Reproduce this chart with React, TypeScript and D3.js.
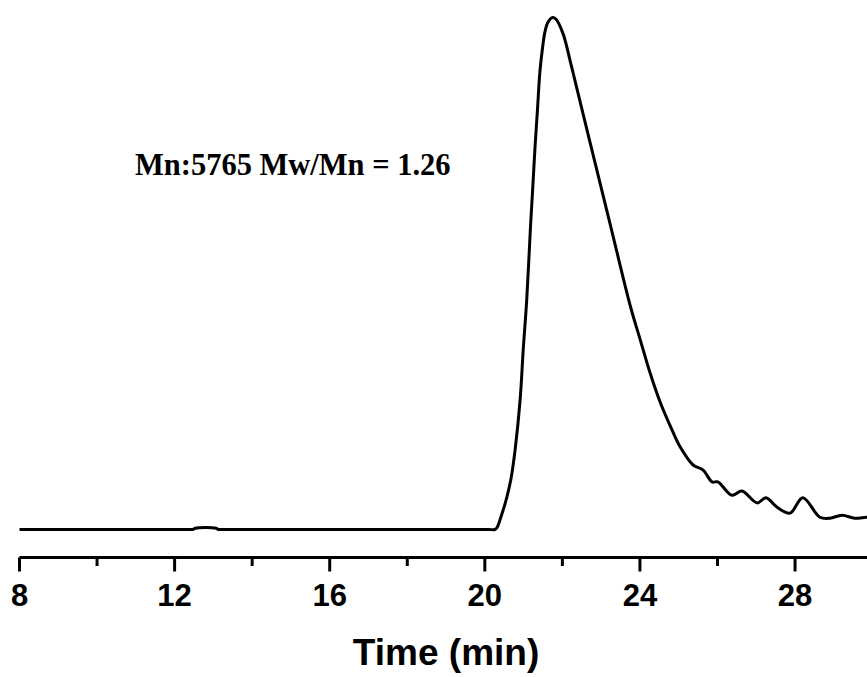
import React from "react";
import * as d3 from "d3";

const time = [
  8, 10, 12, 12.4, 12.47, 12.53, 13.07, 13.13, 13.2, 14, 16, 18, 19.5, 20.1, 20.26, 20.31, 20.43,
  20.55, 20.67, 20.78, 20.91, 20.99, 21.08, 21.18, 21.24, 21.29, 21.36, 21.42, 21.49, 21.55,
  21.63, 21.75, 21.83, 22.01, 22.24, 22.71, 23.23, 23.75, 24.01, 24.26, 24.52, 24.83, 25.04,
  25.37, 25.63, 25.86, 26.01, 26.37, 26.63, 27.02, 27.25, 27.53, 27.87, 28.2, 28.64, 28.9,
  29.21, 29.54, 29.85, 30,
];
const intensity = [
  0, 0, 0, 0, 0, 0.25, 0.25, 0, 0, 0, 0, 0, 0, 0, 0, 0.3, 2.8,
  5.8, 9.7, 15.5, 25.3, 35.1, 44.8, 59.5, 67.3, 74.1, 82.3, 89.4, 94.2, 97.2,
  99.1, 100, 99.7, 97, 90.3, 75.7, 59.7, 43.7, 37, 30.6, 24.9, 19.4, 16.1,
  12.6, 11.6, 9.3, 9.3, 6.7, 7.5, 5.2, 6.2, 4.4, 3.2, 6.2, 2.4, 2.2,
  2.8, 2.2, 2.4, 2.3,
];
const majorTicks = [8, 12, 16, 20, 24, 28];
const minorTicks = [10, 14, 18, 22, 26, 30];
const xTitle = "Time (min)";
const annotation = "Mn:5765 Mw/Mn = 1.26";

export default function App() {
  const W = 867;
  const H = 677;
  const x = d3.scaleLinear().domain([8, 30]).range([19.5, 872.6]);
  const y = d3.scaleLinear().domain([0, 100]).range([529.5, 17.5]);
  const pts: [number, number][] = time.map((t, i) => [t, intensity[i]]);
  const line = d3
    .line<[number, number]>()
    .x((d) => x(d[0]))
    .y((d) => y(d[1]))
    .curve(d3.curveCatmullRom.alpha(0.5));
  const axisY = 557.5;
  return (
    <div style={{ position: "absolute", left: 0, top: 0 }}>
      <svg width={W} height={H} style={{ display: "block", background: "#fff" }}>
        <path d={line(pts) || ""} fill="none" stroke="#000" strokeWidth={3} strokeLinejoin="round" />
        <line x1={x(8)} x2={x(30)} y1={axisY} y2={axisY} stroke="#000" strokeWidth={3} />
        {majorTicks.map((t) => (
          <g key={"M" + t}>
            <line x1={x(t)} x2={x(t)} y1={axisY} y2={axisY + 14} stroke="#000" strokeWidth={3} />
            <text
              x={x(t)}
              y={606}
              textAnchor="middle"
              fontFamily="Liberation Sans, Arial, sans-serif"
              fontWeight="bold"
              fontSize={31}
              fill="#000"
            >
              {t}
            </text>
          </g>
        ))}
        {minorTicks.map((t) => (
          <line key={"m" + t} x1={x(t)} x2={x(t)} y1={axisY} y2={axisY + 8.5} stroke="#000" strokeWidth={3} />
        ))}
        <text
          x={(x(8) + x(30)) / 2}
          y={665}
          textAnchor="middle"
          fontFamily="Liberation Sans, Arial, sans-serif"
          fontWeight="bold"
          fontSize={37}
          fill="#000"
        >
          {xTitle}
        </text>
        <text
          x={135}
          y={175}
          fontFamily="Liberation Serif, Times New Roman, serif"
          fontWeight="bold"
          fontSize={30.5}
          fill="#000"
        >
          {annotation}
        </text>
      </svg>
    </div>
  );
}
